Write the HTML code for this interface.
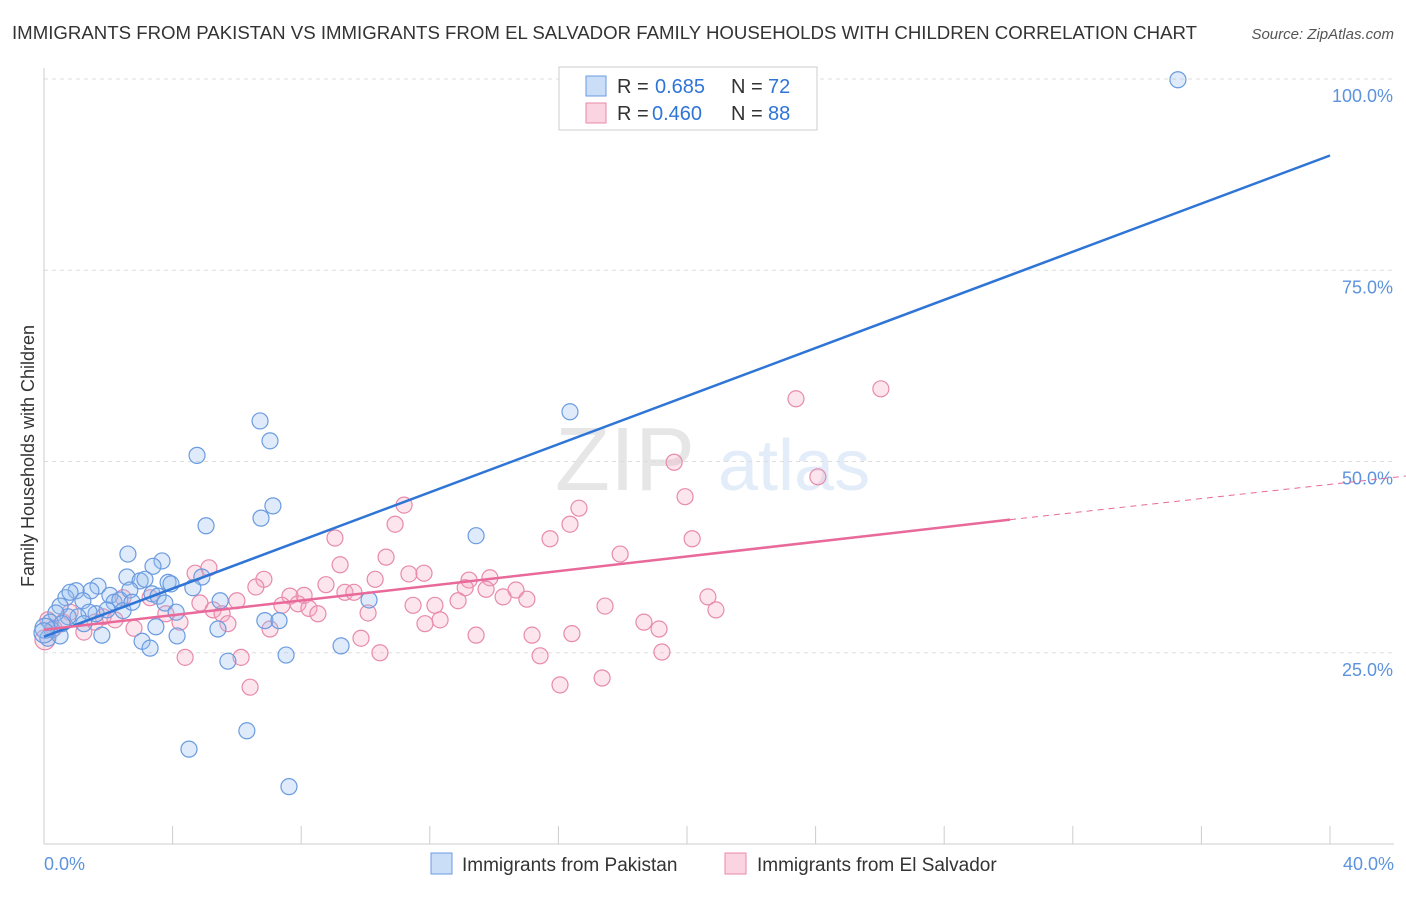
<!DOCTYPE html>
<html><head><meta charset="utf-8">
<style>
body{margin:0;background:#fff;font-family:"Liberation Sans",sans-serif;}
svg text{font-family:"Liberation Sans",sans-serif;}
</style></head>
<body>
<svg id="chart" width="1406" height="892" xmlns="http://www.w3.org/2000/svg">
<text x="12" y="39" font-size="18" fill="#333" textLength="1185" lengthAdjust="spacingAndGlyphs">IMMIGRANTS FROM PAKISTAN VS IMMIGRANTS FROM EL SALVADOR FAMILY HOUSEHOLDS WITH CHILDREN CORRELATION CHART</text>
<text x="1394" y="39" font-size="15" fill="#555" text-anchor="end" font-style="italic">Source: ZipAtlas.com</text>
<g opacity="0.13">
<text x="555" y="490" font-size="90" fill="#444" font-family="Liberation Serif">ZIP</text>
<text x="718" y="490" font-size="72" fill="#2f75d6">atlas</text>
</g>
<g id="grid"></g>
<g id="axes"></g>
<g id="pts"></g>
<g id="lines"></g>
<text transform="translate(34,456) rotate(-90)" font-size="18" fill="#333" text-anchor="middle">Family Households with Children</text>
<g>
<rect x="559" y="67" width="258" height="63" fill="#fff" stroke="#ccc"/>
<rect x="586" y="76" width="20" height="20" fill="rgba(150,190,240,0.5)" stroke="#6a9be0"/>
<rect x="586" y="103" width="20" height="20" fill="rgba(245,170,195,0.5)" stroke="#e88aab"/>
<text x="617" y="93" font-size="20" fill="#333">R =</text>
<text x="655" y="93" font-size="20" fill="#2f75d6">0.685</text>
<text x="731" y="93" font-size="20" fill="#333">N =</text>
<text x="768" y="93" font-size="20" fill="#2f75d6">72</text>
<text x="617" y="120" font-size="20" fill="#333">R =</text>
<text x="652" y="120" font-size="20" fill="#2f75d6">0.460</text>
<text x="731" y="120" font-size="20" fill="#333">N =</text>
<text x="768" y="120" font-size="20" fill="#2f75d6">88</text>
</g>
<g>
<rect x="431" y="853" width="21" height="21" fill="rgba(150,190,240,0.5)" stroke="#6a9be0"/>
<text x="462" y="871" font-size="19" fill="#333">Immigrants from Pakistan</text>
<rect x="725" y="853" width="21" height="21" fill="rgba(245,170,195,0.5)" stroke="#e88aab"/>
<text x="757" y="871" font-size="19" fill="#333">Immigrants from El Salvador</text>
</g>
</svg>
<script>
const blueX=[35.27,16.36,6.72,7.03,4.76,5.04,7.12,6.75,13.44,2.61,3.67,3.39,2.58,2.99,3.14,3.86,3.95,4.91,4.63,1.68,1.46,1.0,0.68,0.81,0.5,1.21,2.05,2.18,2.36,2.67,3.36,3.55,3.76,4.11,5.48,5.41,3.48,4.14,3.05,3.3,1.8,1.62,1.96,1.4,1.06,0.75,0.37,0.19,0.25,0.12,0.5,0.03,2.46,2.74,5.72,7.53,6.87,7.31,9.24,10.11,4.51,6.31,7.62,1.24,0.56,0];
const blueY=[99.9,56.5,55.3,52.7,50.8,41.6,44.2,42.6,40.3,37.9,37.0,36.3,34.9,34.4,34.6,34.2,34.0,34.9,33.5,33.7,33.1,33.1,32.2,32.9,31.1,31.8,32.5,31.6,31.9,33.2,32.7,32.4,31.5,30.3,31.8,28.1,28.4,27.2,26.5,25.6,27.3,30.1,30.6,30.3,29.7,29.7,30.2,29.0,28.0,26.9,27.2,28.2,30.5,31.6,23.9,24.7,29.2,29.2,25.9,31.9,12.4,14.8,7.5,28.8,28.8,27.6];
const pinkX=[26.03,23.39,19.6,24.07,19.94,11.2,16.64,16.36,10.92,9.05,15.74,20.16,10.64,17.92,9.21,5.13,4.7,11.35,11.82,6.84,10.3,13.87,13.22,8.77,6.59,13.1,14.68,13.75,9.36,9.64,8.09,7.65,10.08,14.28,15.02,6.0,12.88,7.9,4.85,7.4,8.24,11.48,12.16,17.45,20.65,20.9,8.52,5.26,5.54,4.23,3.79,5.72,7.03,12.32,11.85,18.66,19.13,2.8,1.24,1.84,0.81,0.59,0.31,9.86,13.44,15.18,16.42,4.39,6.13,10.45,15.43,19.22,6.41,16.05,17.36,2.46,3.3,2.21,1.59,0.12,0.03];
const pinkY=[59.5,58.2,49.9,48.0,45.4,44.3,43.9,41.8,41.8,40.0,39.9,39.9,37.5,37.9,36.5,36.1,35.4,35.3,35.4,34.6,34.6,34.8,34.5,33.9,33.6,33.5,33.2,33.3,32.9,32.9,32.5,32.4,30.2,32.3,32.0,31.8,31.8,31.4,31.5,31.2,30.8,31.2,31.2,31.1,32.3,30.6,30.1,30.6,30.1,29.0,30.1,28.8,28.1,29.3,28.8,29.0,28.1,28.2,27.7,29.7,30.3,29.0,28.2,26.9,27.3,27.3,27.5,24.4,24.4,25.0,24.6,25.1,20.5,20.8,21.7,32.2,32.2,29.3,29.0,29.3,26.7];
const blueLine=[[0,27.1],[40,90.0]];
const pinkLine=[[0,28.0],[30.05,42.4]];
const pinkDash=[[30.05,42.4],[42.36,48.1]];
const yTicks=[25,50,75,100];
const yTickLabels=["25.0%","50.0%","75.0%","100.0%"];
const xTicks=[0,4,8,12,16,20,24,28,32,36,40];

const X=v=>44+v/40*1286;
const Y=v=>844-v/100*765;
const NS="http://www.w3.org/2000/svg";
function mk(tag,attrs,parent){const e=document.createElementNS(NS,tag);for(const k in attrs)e.setAttribute(k,attrs[k]);parent.appendChild(e);return e;}
const grid=document.getElementById('grid'),axes=document.getElementById('axes'),pts=document.getElementById('pts'),lines=document.getElementById('lines');
yTicks.forEach((t,i)=>{
 const l=mk('line',{x1:44,x2:1394,y1:Y(t),y2:Y(t),stroke:'#ddd','stroke-dasharray':'4,4'},grid);
 
 
 const tx=mk('text',{x:1393,y:Y(t)+23,'font-size':18,fill:'#5b93dd','text-anchor':'end'},axes);
 tx.textContent=yTickLabels[i];
 
 
});
const xa=mk('line',{x1:44,x2:1394,y1:844,y2:844,stroke:'#ccc'},axes);


const ya=mk('line',{x1:44,x2:44,y1:68,y2:844,stroke:'#ccc'},axes);


xTicks.forEach(t=>{
 const l=mk('line',{x1:X(t),x2:X(t),y1:826,y2:844,stroke:'#ccc'},axes);
 
 
});
const xl0=mk('text',{x:44,y:870,'font-size':18,fill:'#5b93dd'},axes);xl0.textContent='0.0%';


const xl1=mk('text',{x:1394,y:870,'font-size':18,fill:'#5b93dd','text-anchor':'end'},axes);xl1.textContent='40.0%';



function dots(xs,ys,fill,stroke,name){
 xs.forEach((x,i)=>{
  const c=mk('circle',{cx:X(x),cy:Y(ys[i]),r:(x===0||x===0.03)?10:8,fill:fill,stroke:stroke,'stroke-width':1.2},pts);
  
  
 });
}
dots(pinkX,pinkY,'rgba(245,170,195,0.3)','#e88aab','point-el-salvador');
dots(blueX,blueY,'rgba(150,190,240,0.3)','#6a9be0','point-pakistan');
function ln(p,color,dash,name,w){
 const l=mk('line',{x1:X(p[0][0]),y1:Y(p[0][1]),x2:X(p[1][0]),y2:Y(p[1][1]),stroke:color,'stroke-width':w},lines);
 if(dash)l.setAttribute('stroke-dasharray',dash);
 
 
}
ln(blueLine,'#2f75d6',null,'trend-line-pakistan',2.5);
ln(pinkLine,'#e8699a',null,'trend-line-el-salvador',2.5);
ln(pinkDash,'#e8699a','6,5','trend-line-el-salvador-extension',1);
</script>
</body></html>
